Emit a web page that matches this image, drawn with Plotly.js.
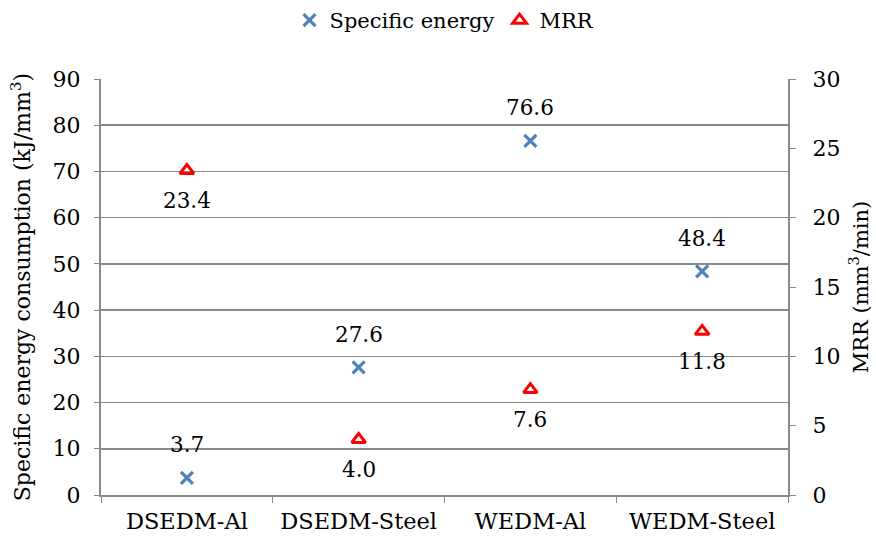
<!DOCTYPE html>
<html>
<head>
<meta charset="utf-8">
<script src="https://cdn.plot.ly/plotly-3.0.1.min.js"></script>
<style>html,body{margin:0;padding:0;background:#fff;}#chart{width:876px;height:540px;}</style>
</head>
<body>
<div id="chart"></div>
<script>
var categories = ["DSEDM-Al", "DSEDM-Steel", "WEDM-Al", "WEDM-Steel"];
var specificEnergy = [3.7, 27.6, 76.6, 48.4];
var mrr = [23.4, 4.0, 7.6, 11.8];
var energyLabels = ["3.7", "27.6", "76.6", "48.4"];
var mrrLabels = ["23.4", "4.0", "7.6", "11.8"];

var FONT = "DejaVu Serif";
var axisColor = "#898989";

var traces = [
  {
    x: categories, y: specificEnergy, name: "Specific energy", type: "scatter", mode: "markers",
    marker: {symbol: "x-thin-open", size: 12, color: "#4F81BD", line: {width: 3.2, color: "#4F81BD"}},
    yaxis: "y"
  },
  {
    x: categories, y: mrr, name: "MRR", type: "scatter", mode: "markers",
    marker: {symbol: "triangle-up-open", size: 12, color: "#FF0000", line: {width: 3, color: "#FF0000"}},
    yaxis: "y2"
  }
];

var annotations = [];
categories.forEach(function (c, i) {
  annotations.push({x: c, y: specificEnergy[i], xref: "x", yref: "y", text: energyLabels[i],
    showarrow: false, yanchor: "middle", yshift: 33, font: {family: FONT, size: 21.5, color: "#000"}});
  annotations.push({x: c, y: mrr[i], xref: "x", yref: "y2", text: mrrLabels[i],
    showarrow: false, yanchor: "middle", yshift: -30, font: {family: FONT, size: 21.5, color: "#000"}});
});

var layout = {
  width: 876, height: 540,
  margin: {l: 101, r: 88, t: 79, b: 45},
  paper_bgcolor: "#fff", plot_bgcolor: "#fff",
  font: {family: FONT, size: 20, color: "#000"},
  showlegend: true,
  legend: {orientation: "h", x: 0.5, xanchor: "center", y: 1.0, yref: "container", yanchor: "top",
    font: {family: FONT, size: 21, color: "#000"}, itemwidth: 30, tracegroupgap: 0},
  xaxis: {
    type: "category", tickson: "boundaries", ticks: "outside", ticklen: 6, tickcolor: axisColor,
    showline: true, linecolor: axisColor, linewidth: 2, showgrid: false, zeroline: false,
    tickfont: {family: FONT, size: 22.5, color: "#000"}, ticklabelstandoff: 5, range: [-0.5, 3.5]
  },
  yaxis: {
    range: [0, 90], dtick: 10, ticks: "outside", ticklen: 5, tickcolor: axisColor,
    showline: true, linecolor: axisColor, linewidth: 2, showgrid: true, gridcolor: axisColor, gridwidth: 1.5,
    zeroline: false, tickfont: {family: FONT, size: 22, color: "#000"}, ticklabelstandoff: 9,
    title: {text: "Specific energy consumption (kJ/mm<sup>3</sup>)", font: {family: FONT, size: 22, color: "#000"}, standoff: 16}
  },
  yaxis2: {
    range: [0, 30], dtick: 5, overlaying: "y", side: "right", ticks: "outside", ticklen: 6, tickcolor: axisColor,
    showline: true, linecolor: axisColor, linewidth: 2, showgrid: false, zeroline: false,
    tickfont: {family: FONT, size: 22, color: "#000"}, ticklabelstandoff: 12,
    title: {text: "MRR (mm<sup>3</sup>/min)", font: {family: FONT, size: 21, color: "#000"}, standoff: 14}
  },
  annotations: annotations
};

Plotly.newPlot("chart", traces, layout, {displayModeBar: false, staticPlot: true});
</script>
</body>
</html>
